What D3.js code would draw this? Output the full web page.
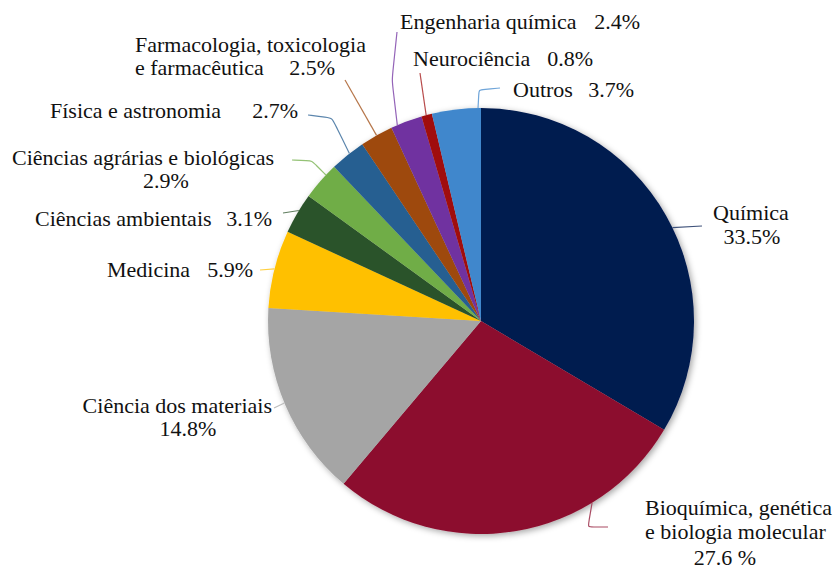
<!DOCTYPE html>
<html>
<head>
<meta charset="utf-8">
<script src="https://cdn.jsdelivr.net/npm/d3@7"></script>
<style>
  body { margin: 0; background: #fff; }
  svg text { font-family: "Liberation Serif", "Times New Roman", serif; }
</style>
</head>
<body>
<div id="chart"></div>
<script>
// ============================================================================
// data
// ============================================================================

const categories = [
    ["Química"],
    ["Bioquímica, genética", "e biologia molecular"],
    ["Ciência dos materiais"],
    ["Medicina"],
    ["Ciências ambientais"],
    ["Ciências agrárias e biológicas"],
    ["Física e astronomia"],
    ["Farmacologia, toxicologia", "e farmacêutica"],
    ["Engenharia química"],
    ["Neurociência"],
    ["Outros"]
];
const values = [33.5, 27.6, 14.8, 5.9, 3.1, 2.9, 2.7, 2.5, 2.4, 0.8, 3.7];
const colors = ["#001a4f", "#8c0f2f", "#a5a5a5", "#ffc000", "#2b5329", "#70ad47",
                "#255e91", "#9e480e", "#7030a0", "#a00f0f", "#3f87cc"];

// ============================================================================
// label layout (where each label sits and where its leader line bends)
// ============================================================================

// name: line positions, val: value position, t: attach point inside slice (0..1)
// from: leader start, bend: optional bend point
const layout = [
    { name: [[751, 220, "middle"]], val: [752, 244, "middle"], t: 0.53, from: [702, 226] },
    { name: [[645, 515, "start"], [645, 539, "start"]], val: [725, 565, "middle"], sep: " ", t: 0.28, from: [608, 527], bend: [588, 527] },
    { name: [[272, 413, "end"]], val: [188, 436, "middle"], t: 0.51, from: [274, 408] },
    { name: [[107, 277, "start"]], val: [253, 277, "end"], t: 0.5, from: [260, 270] },
    { name: [[35, 226, "start"]], val: [272, 226, "end"], t: 0.58, from: [283, 213] },
    { name: [[12, 165, "start"]], val: [166, 188, "middle"], t: 0.7, from: [292, 160], bend: [312, 161] },
    { name: [[50, 118, "start"]], val: [298, 118, "end"], t: 0.56, from: [308, 115], bend: [332, 118] },
    { name: [[135, 52, "start"], [135, 75, "start"]], val: [335, 75, "end"], t: 0.5, from: [345, 80] },
    { name: [[400, 29, "start"]], val: [640, 29, "end"], t: 0.2, from: [397, 32], bend: [392, 80] },
    { name: [[413, 66, "start"]], val: [593, 66, "end"], t: 0.45, from: [420, 73] },
    { name: [[513, 97, "start"]], val: [634, 97, "end"], t: 0.94, from: [500, 88], bend: [479, 90] }
];

// ============================================================================
// drawing
// ============================================================================

const width = 840;
const height = 572;
const cx = 481, cy = 321, radius = 213;
const FONT = "'Liberation Serif', 'Times New Roman', serif";

const svg = d3.select("#chart")
  .append("svg")
    .attr("width", width)
    .attr("height", height);

// soft shadow under the pie
const defs = svg.append("defs");
defs.append("filter")
    .attr("id", "shadow")
    .attr("x", "-10%").attr("y", "-10%")
    .attr("width", "120%").attr("height", "120%")
  .append("feDropShadow")
    .attr("dx", 2).attr("dy", 2)
    .attr("stdDeviation", 3)
    .attr("flood-color", "#000")
    .attr("flood-opacity", 0.35);

const pie = d3.pie().sort(null).value(d => d);
const arcs = pie(values);
const arc = d3.arc().innerRadius(0).outerRadius(radius);

const g = svg.append("g").attr("transform", `translate(${cx},${cy})`);

g.append("g")
    .attr("filter", "url(#shadow)")
  .selectAll("path")
  .data(arcs)
  .join("path")
    .attr("d", arc)
    .attr("fill", (d, i) => colors[i]);

// leader lines
const line = d3.line().curve(d3.curveBasis);

svg.append("g")
    .attr("fill", "none")
    .attr("stroke-width", 1.2)
  .selectAll("path")
  .data(arcs)
  .join("path")
    .attr("stroke", (d, i) => d3.interpolateRgb(colors[i], "#fff")(0.25))
    .attr("d", (d, i) => {
        const L = layout[i];
        const a = d.startAngle + (d.endAngle - d.startAngle) * L.t;
        const end = [cx + radius * Math.sin(a), cy - radius * Math.cos(a)];
        const pts = [L.from];
        if (L.bend) pts.push(L.from.map((v, k) => v + (L.bend[k] - v) * 0.8), L.bend, L.bend.map((v, k) => v + (end[k] - v) * 0.2));
        pts.push(end);
        return line(pts);
    });

// labels
const fmt = d3.format(".1f");
const labels = svg.append("g");

function addText(x, y, anchor, txt) {
    labels.append("text")
        .attr("x", x)
        .attr("y", y)
        .attr("text-anchor", anchor)
        .attr("font-family", FONT)
        .style("font-family", FONT)
        .attr("font-size", 22)
        .attr("fill", "#111")
        .text(txt);
}

categories.forEach((lines, i) => {
    const L = layout[i];
    lines.forEach((txt, j) => addText(L.name[j][0], L.name[j][1], L.name[j][2], txt));
    addText(L.val[0], L.val[1], L.val[2], fmt(values[i]) + (L.sep || "") + "%");
});
</script>
</body>
</html>
